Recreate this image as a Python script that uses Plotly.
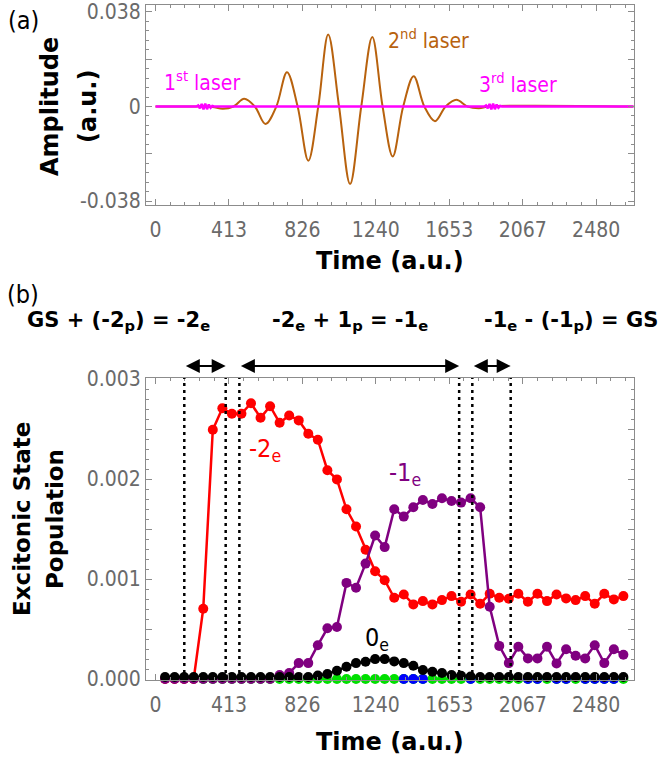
import plotly.graph_objects as go

# ---------------- data ----------------
# (a) laser pulses
t_brown = [0, 250, 320, 379, 439, 499, 559, 619, 680, 740, 800, 860, 916, 972, 1033,
           1095, 1158, 1220, 1278, 1335, 1394, 1453, 1513, 1573, 1633, 1693, 1756,
           1820, 1880, 2690]
a_brown = [0, 0, -0.0002, -0.0009, 0, 0.0031, 0, -0.0070, 0, 0.0138, 0, -0.0218, 0,
           0.0289, 0, -0.0312, 0, 0.0279, 0, -0.0201, 0, 0.0122, 0, -0.0059, 0,
           0.0027, 0, -0.0007, 0, 0]

t_mag = [0, 230, 240, 250, 260, 270, 280, 290, 300, 310, 320, 330,
         1850, 1860, 1870, 1880, 1890, 1900, 1910, 1920, 1930, 1940, 1950, 2690]
a_mag = [0, 0, 0.0004, -0.0007, 0.0010, -0.0012, 0.0012, -0.0011, 0.0008, -0.0005, 0.0002, 0,
         0, 0.0004, -0.0007, 0.0010, -0.0012, 0.0012, -0.0011, 0.0008, -0.0005, 0.0002, 0, 0]

# (b) populations, sampled every 53.74 a.u. (k = 1..49)
dt = 53.74
time_b = [round(dt * k, 2) for k in range(1, 50)]
pop_m2e = [0, 0, 0, 0, 0.000703, 0.002493, 0.002708, 0.002652, 0.002652, 0.002758,
           0.002612, 0.002728, 0.002562, 0.002635, 0.002586, 0.002453, 0.002393,
           0.002088, 0.001996, 0.001697, 0.001525, 0.001293, 0.001077, 0.000988,
           0.000812, 0.000845, 0.000746, 0.000779, 0.000746, 0.000789, 0.000829,
           0.000772, 0.000845, 0.000752, 0.000852, 0.000812, 0.000802, 0.000852,
           0.000772, 0.000852, 0.000779, 0.000845, 0.000806, 0.000789, 0.000829,
           0.000752, 0.000852, 0.000796, 0.000829]
pop_m1e = [0, 0, 0, 0, 0, 0, 0, 0, 0, 0, 0, 0, 0.00004, 0.00006, 0.000159, 0.000159,
           0.000338, 0.000507, 0.000520, 0.000961, 0.000912, 0.001154, 0.001435,
           0.001319, 0.001697, 0.001624, 0.001717, 0.00179, 0.00175, 0.001807,
           0.00178, 0.001764, 0.001807, 0.001717, 0.000723, 0.000331, 0.000159,
           0.000322, 0.000206, 0.000206, 0.000322, 0.000156, 0.000298, 0.000232,
           0.000206, 0.000338, 0.000159, 0.000298, 0.000242]
pop_0e = [0.00002] * 16 + [0.000035, 0.00005, 0.000083, 0.000123, 0.000159, 0.000172,
                            0.000199, 0.000199, 0.000176, 0.000159, 0.000133, 0.00009,
                            0.000073, 0.00006, 0.00004, 0.000033, 0.000025] + [0.00002] * 16
pop_green = [None] * 4 + [0] * 45
blue_k = {26, 27, 28, 33, 39, 40, 42, 43, 45, 46, 47, 48}
pop_blue = [0 if k in blue_k else None for k in range(1, 50)]

tick_vals = [0, 413.33, 826.67, 1240, 1653.33, 2066.67, 2480]
tick_text = ["0", "413", "826", "1240", "1653", "2067", "2480"]
vlines = [162, 395, 472, 1709, 1783, 1999]
arrow_pairs = [(162, 395), (472, 1709), (1783, 1999)]

# ---------------- layout helpers ----------------
W, H = 661, 758
ML, MR, MT, MB = 146, 27, 5, 78
PW, PH = W - ML - MR, H - MT - MB


def px_x(px):
    return (px - ML) / PW


def px_y(py):
    return (H - MB - py) / PH


FONT = "DejaVu Sans Condensed, DejaVu Sans"
BOLD = "DejaVu Sans, Verdana"
GRAY = "#8c8c8c"
TXT_GRAY = "#6a6a6a"
XR = [-53.5, 2693]

fig = go.Figure()

fig.add_trace(go.Scatter(x=t_brown, y=a_brown, mode="lines",
                         line=dict(color="#B8620E", width=2, shape="spline", smoothing=1.0),
                         xaxis="x", yaxis="y", showlegend=False))
fig.add_trace(go.Scatter(x=t_mag, y=a_mag, mode="lines", line=dict(color="#FF00FF", width=2.5),
                         xaxis="x", yaxis="y", showlegend=False))

mk = dict(size=10)
fig.add_trace(go.Scatter(x=time_b, y=pop_green, mode="lines+markers", line=dict(color="#00E000", width=2),
                         marker=dict(color="#00E000", **mk), xaxis="x2", yaxis="y2", cliponaxis=False,
                         showlegend=False))
fig.add_trace(go.Scatter(x=time_b, y=pop_blue, mode="markers",
                         marker=dict(color="#0000FF", **mk), xaxis="x2", yaxis="y2", cliponaxis=False,
                         showlegend=False))
fig.add_trace(go.Scatter(x=time_b, y=pop_m2e, mode="lines+markers", line=dict(color="#FF0000", width=2.5),
                         marker=dict(color="#FF0000", **mk), xaxis="x2", yaxis="y2", cliponaxis=False,
                         showlegend=False))
fig.add_trace(go.Scatter(x=time_b, y=pop_m1e, mode="lines+markers", line=dict(color="#800080", width=2.5),
                         marker=dict(color="#800080", **mk), xaxis="x2", yaxis="y2", cliponaxis=False,
                         showlegend=False))
fig.add_trace(go.Scatter(x=time_b, y=pop_0e, mode="lines+markers", line=dict(color="#000000", width=2.5),
                         marker=dict(color="#000000", **mk), xaxis="x2", yaxis="y2", cliponaxis=False,
                         showlegend=False))

axis_common = dict(showline=True, linecolor=GRAY, linewidth=1, mirror="allticks", ticks="inside",
                   tickcolor=GRAY, ticklen=6, showgrid=False, zeroline=False, automargin=False,
                   tickfont=dict(family=FONT, size=21, color=TXT_GRAY))

xax = dict(axis_common, range=XR, tickmode="array", tickvals=tick_vals, ticktext=tick_text,
           ticklabelstandoff=6,
           minor=dict(ticks="inside", ticklen=3, tickcolor=GRAY, tickmode="linear", tick0=0, dtick=413.333 / 5))

fig.update_layout(
    template="none",
    width=W, height=H, margin=dict(l=ML, r=MR, t=MT, b=MB, autoexpand=False),
    paper_bgcolor="white", plot_bgcolor="white",
    xaxis=dict(xax, domain=[0, 1], anchor="y"),
    yaxis=dict(axis_common, domain=[px_y(205), 1], anchor="x", range=[-0.0396, 0.0408],
               tickmode="array", tickvals=[-0.038, -0.019, 0, 0.019, 0.038],
               ticktext=["-0.038", "", "0", "", "0.038"],
               minor=dict(ticks="inside", ticklen=3, tickcolor=GRAY, tickmode="linear", tick0=0, dtick=0.0038)),
    xaxis2=dict(xax, domain=[0, 1], anchor="y2"),
    yaxis2=dict(axis_common, domain=[0, px_y(378)], anchor="x2", range=[-0.00001, 0.00301],
                tickmode="array", tickvals=[0, 0.0005, 0.001, 0.0015, 0.002, 0.0025, 0.003],
                ticktext=["0.000", "", "0.001", "", "0.002", "", "0.003"],
                minor=dict(ticks="inside", ticklen=3, tickcolor=GRAY, tickmode="linear", tick0=0, dtick=0.0001)),
)

# dotted vertical lines
for v in vlines:
    fig.add_shape(type="line", xref="x2", yref="y2 domain", x0=v, x1=v, y0=0, y1=1,
                  line=dict(color="black", width=2.5, dash="3px,4px"))

ann = []


def txt(text, px, py, size, color="black", bold=False, angle=0, xanchor="center", yanchor="middle"):
    t = f"<b>{text}</b>" if bold else text
    ann.append(dict(text=t, x=px_x(px), y=px_y(py), xref="paper", yref="paper", showarrow=False,
                    textangle=angle, xanchor=xanchor, yanchor=yanchor,
                    font=dict(family=BOLD if bold else FONT, size=size, color=color)))


txt("(a)", 23, 20, 25)
txt("(b)", 23, 295, 25)
txt("Amplitude", 50, 107, 24, bold=True, angle=-90)
txt("(a.u.)", 88, 107, 24, bold=True, angle=-90)
txt("Time (a.u.)", 390, 261, 24, bold=True)
txt("Time (a.u.)", 390, 742, 24, bold=True)
txt("Excitonic State", 22, 519, 23, bold=True, angle=-90)
txt("Population", 55, 519, 23, bold=True, angle=-90)

txt("GS + (-2<sub>p</sub>) = -2<sub>e</sub>", 118, 321, 21, bold=True)
txt("-2<sub>e</sub> + 1<sub>p</sub> = -1<sub>e</sub>", 350, 321, 21, bold=True)
txt("-1<sub>e</sub> - (-1<sub>p</sub>) = GS", 660, 321, 21, bold=True, xanchor="right")

# laser labels (top panel, data coords)
for text, tx, ay, col in [("1<sup>st</sup> laser", 37, 0.0103, "#FF00FF"),
                          ("2<sup>nd</sup> laser", 1297, 0.0271, "#B8620E"),
                          ("3<sup>rd</sup> laser", 1809, 0.0095, "#FF00FF")]:
    ann.append(dict(text=text, x=tx, y=ay, xref="x", yref="y", showarrow=False, xanchor="left", yanchor="middle",
                    font=dict(family=FONT, size=21, color=col)))

# state labels (bottom panel)
for text, tx, ay, col in [("-2<sub>e</sub>", 515, 0.00229, "#FF0000"),
                          ("-1<sub>e</sub>", 1305, 0.00205, "#800080"),
                          ("0<sub>e</sub>", 1168, 0.00040, "#000000")]:
    ann.append(dict(text=text, x=tx, y=ay, xref="x2", yref="y2", showarrow=False, xanchor="left", yanchor="middle",
                    font=dict(family=FONT, size=25, color=col)))

# double-headed arrows above the bottom panel
for a0, a1 in arrow_pairs:
    ann.append(dict(text="", x=a1, y=px_y(366), ax=a0, ay=0, xref="x2", yref="paper", axref="x2", ayref="pixel",
                    showarrow=True, arrowhead=2, startarrowhead=2, arrowside="end+start",
                    arrowsize=1.4, startarrowsize=1.4, arrowwidth=2, arrowcolor="black",
                    standoff=0, startstandoff=0))

fig.update_layout(annotations=ann)
fig.write_html("out.html")
